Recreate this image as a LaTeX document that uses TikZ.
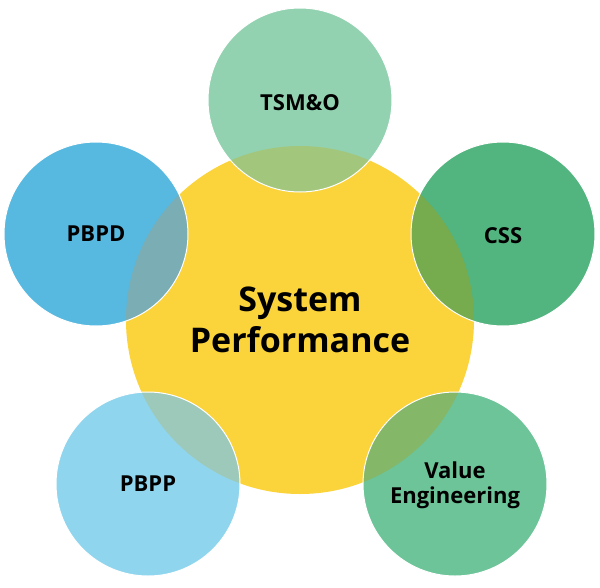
\documentclass[tikz,border=0pt]{standalone}
\usepackage{fontspec}
\setmainfont{Open Sans}
\definecolor{cyel}{HTML}{FBD33B}
\definecolor{ctsm}{HTML}{92D2B0}
\definecolor{ccss}{HTML}{52B47E}
\definecolor{cve}{HTML}{6CC498}
\definecolor{cpbpp}{HTML}{90D5EE}
\definecolor{cpbpd}{HTML}{57B8E0}
\definecolor{otsm}{HTML}{A3C67D}
\definecolor{ocss}{HTML}{76AB4E}
\definecolor{ove}{HTML}{85B769}
\definecolor{opbpp}{HTML}{9DC9BA}
\definecolor{opbpd}{HTML}{7AADB4}
\tikzset{
  sat/.style={circle, minimum size=184pt, inner sep=0pt},
  lab/.style={font=\bfseries\fontsize{22}{27}\selectfont, align=center, text=black},
}
\begin{document}
\begin{tikzpicture}[x=1pt,y=-1pt]
\useasboundingbox (0,0) rectangle (600,587);
\fill[cyel] (300,320) circle (174);
% satellites
\foreach \cx/\cy/\cc/\oc in {300/100/ctsm/otsm, 503/234/ccss/ocss, 455/484/cve/ove, 148/484/cpbpp/opbpp, 96/234/cpbpd/opbpd}{
  \fill[\cc] (\cx,\cy) circle (92);
  \begin{scope}
    \clip (300,320) circle (174);
    \fill[\oc] (\cx,\cy) circle (92);
  \end{scope}
  \draw[white, line width=1pt] (\cx,\cy) circle (92);
}
\node[sat] (tsm) at (300,100) {};
\node[sat] (css) at (503,234) {};
\node[sat] (ve) at (455,484) {};
\node[sat] (pbpp) at (148,484) {};
\node[sat] (pbpd) at (96,234) {};
\node[circle, minimum size=348pt] (sys) at (300,320) {};
\node[lab] at ([yshift=-3pt]tsm.center) {TSM\&O};
\node[lab] at ([yshift=-2pt]css.center) {CSS};
\node[lab] at ([yshift=-1pt]ve.center) {Value\\[-2pt]Engineering};
\node[lab] at (pbpp.center) {PBPP};
\node[lab] at (pbpd.center) {PBPD};
\node[font=\bfseries\fontsize{34}{41}\selectfont, align=center] at (sys.center) {System\\Performance};
\end{tikzpicture}
\end{document}
